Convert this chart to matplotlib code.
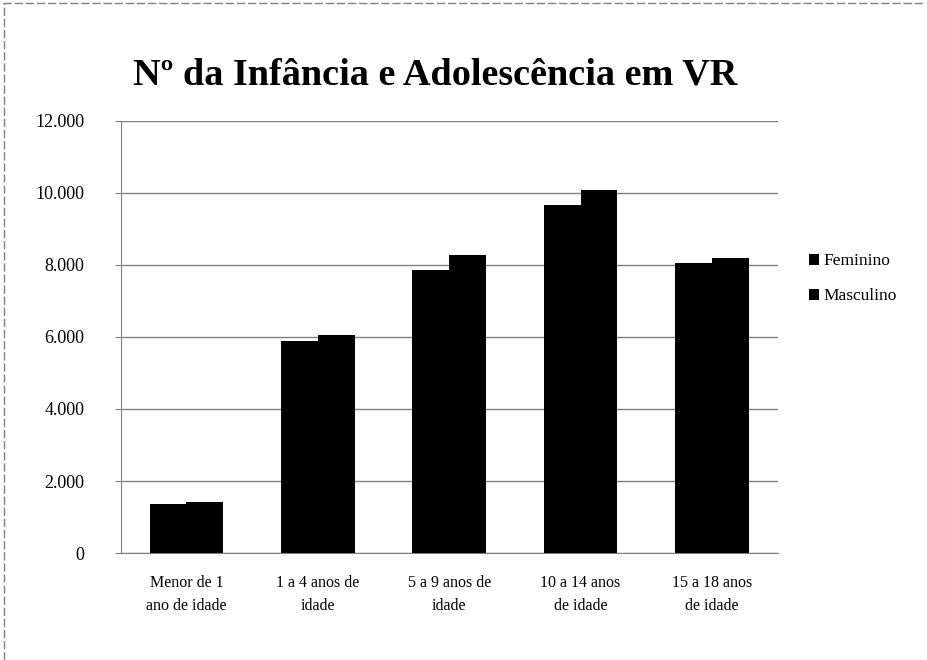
import numpy as np
import matplotlib
matplotlib.use("Agg")
import matplotlib.pyplot as plt
from matplotlib.ticker import FuncFormatter

categorias = ["Menor de 1\nano de idade", "1 a 4 anos de\nidade", "5 a 9 anos de\nidade",
              "10 a 14 anos\nde idade", "15 a 18 anos\nde idade"]
feminino = [1360, 5900, 7850, 9660, 8050]
masculino = [1420, 6055, 8270, 10080, 8195]

plt.rcParams["font.family"] = ["Liberation Serif", "DejaVu Serif"]

fig = plt.figure(figsize=(9.28, 6.6), dpi=100)
ax = fig.add_axes([0.130, 0.162, 0.708, 0.655])

x = np.arange(len(categorias))
w = 0.28
ax.bar(x - w / 2, feminino, w, color="black", label="Feminino", zorder=3)
ax.bar(x + w / 2, masculino, w, color="black", label="Masculino", zorder=3)

ax.set_xlim(-0.5, len(categorias) - 0.5)
ax.set_ylim(0, 12000)
ax.set_yticks(np.arange(0, 12001, 2000))
ax.yaxis.set_major_formatter(FuncFormatter(lambda v, p: f"{int(v):,}".replace(",", ".")))
ax.set_xticks(x)
ax.set_xticklabels(categorias, fontsize=11.5, linespacing=1.55)
ax.tick_params(axis="x", length=0, pad=16)
ax.tick_params(axis="y", length=4, color="#808080", labelsize=13, pad=22)
ax.grid(axis="y", color="#808080", linewidth=1, zorder=0)

for s in ["top", "right"]:
    ax.spines[s].set_visible(False)
for s in ["left", "bottom"]:
    ax.spines[s].set_color("#808080")

fig.text(0.469, 0.886, "Nº da Infância e Adolescência em VR", ha="center", va="center",
         fontsize=27.5, fontweight="bold")

fig.legend(loc="upper left", bbox_to_anchor=(0.855, 0.64), frameon=False, fontsize=12.5,
           handlelength=0.6, handleheight=0.6, handletextpad=0.2, labelspacing=1.1)

# moldura do gráfico (topo e esquerda)
fig.add_artist(plt.Line2D([0.003, 0.997], [0.995, 0.995], color="#808080", linewidth=1, linestyle=(0, (6, 2))))
fig.add_artist(plt.Line2D([0.004, 0.004], [0.0, 0.995], color="#808080", linewidth=1, linestyle=(0, (6, 2))))

fig.savefig("out.png", dpi=100)
